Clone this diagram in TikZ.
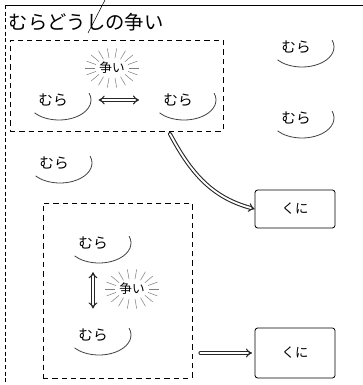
\documentclass[tikz,border=0pt]{standalone}
\usepackage{fontspec}
\newfontfamily\jp{Noto Sans CJK JP}
\usetikzlibrary{arrows.meta,fit}
\tikzset{
% Node styles: villages, countries, fights and the dashed groups
mura node/.style={font=\jp\fontsize{11}{13}\selectfont, inner sep=1pt},
kuni node/.style={rectangle, draw, semithick, rounded corners=2pt, font=\jp\fontsize{10}{12}\selectfont, minimum width=60pt},
fight node/.style={font=\jp\fontsize{9.5}{11}\selectfont, inner sep=1pt},
group box/.style={draw, semithick, dash pattern=on 4pt off 3pt, inner sep=0pt},
mura curve/.style={semithick, black!75},
burst line/.style={gray, thin},
link/.style={double, double distance=1.4pt, thick, black!85, line cap=round}
}

\begin{document}
\begin{tikzpicture}[x=0.75pt, y=0.75pt]
\useasboundingbox (0,0) rectangle (363,385);
% frame and title
\draw[semithick, dash pattern=on 3pt off 2pt] (5,380) -- (5,0);
\draw[semithick] (5,380) -- (363,380);
\draw[thin] (105,385) -- (88,352);
\node[font=\jp\fontsize{14.5}{16}\selectfont] (title) at (86,363) {むらどうしの争い};

% upper group
\coordinate (upper nw) at (10,345);
\coordinate (upper se) at (223,254);
\node[group box, fit=(upper nw)(upper se)] (upper) {};
\node[fight node] (f1) at (112,317) {争い};
\node[mura node] (m1) at (53,285) {むら};
\node[mura node] (m2) at (178,285) {むら};

% single villages
\node[mura node] (r1) at (296,338) {むら};
\node[mura node] (r2) at (296,267) {むら};
\node[mura node] (m3) at (54,222) {むら};

% lower group
\coordinate (lower nw) at (43,182);
\coordinate (lower se) at (192,7);
\node[group box, fit=(lower nw)(lower se)] (lower) {};
\node[mura node] (m4) at (93,142) {むら};
\node[mura node] (m5) at (93,50) {むら};
\node[fight node] (f2) at (132,96) {争い};

% countries
\node[kuni node, minimum height=28.5pt] (kuni1) at (295,176) {くに};
\node[kuni node, minimum height=37.5pt] (kuni2) at (295,32) {くに};

% curves under the villages
\foreach \m in {m1,m2,r1,r2,m3,m4,m5}
    \draw[mura curve] (\m) ++(6,0) ++(220:32 and 20)
        arc[start angle=220, end angle=380, x radius=32, y radius=20];

% bursts round the fights
\foreach \f in {f1,f2}
    \foreach \a in {0,20,...,340}
        \draw[burst line] (\f) ++(\a:17 and 10) -- ++(\a:10);

% arrows
\coordinate (bend start) at (170,251);
\draw[link, {Implies}-{Implies}, shorten <=22pt, shorten >=17pt] (m1.east) -- (m2.west);
\draw[link, {Implies}-{Implies}, shorten <=16pt, shorten >=14pt] (m4.south) -- (m5.north);
\draw[link, -{Implies}] (bend start) to[out=-62, in=165] (kuni1.west);
\draw[link, -{Implies}, shorten <=6pt, shorten >=2pt] (lower.east |- kuni2.west) -- (kuni2.west);
\end{tikzpicture}
\end{document}
